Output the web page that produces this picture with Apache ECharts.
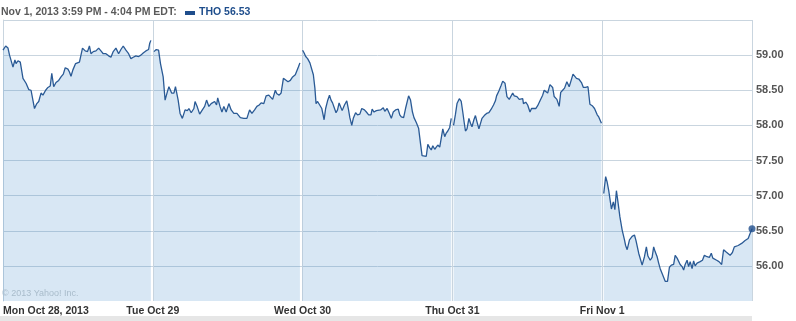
<!DOCTYPE html>
<html>
<head>
<meta charset="utf-8">
<script src="https://cdn.jsdelivr.net/npm/echarts@6/dist/echarts.min.js"></script>
<style>html,body{margin:0;padding:0;background:#fff;}#c{width:796px;height:321px;}</style>
</head>
<body>
<div id="c"></div>
<script>
// Session minute (0..390 from 9:30 open) and price, per trading day
const dayLabels = ['Mon Oct 28, 2013', 'Tue Oct 29', 'Wed Oct 30', 'Thu Oct 31', 'Fri Nov 1'];
const yTicks = [56.0, 56.5, 57.0, 57.5, 58.0, 58.5, 59.0];
const headerText = 'Nov 1, 2013 3:59 PM - 4:04 PM EDT:';
const seriesName = 'THO 56.53';
const copyright = '\u00a9 2013 Yahoo! Inc.';

const mon = [[0,59.07],[7,59.13],[13,59.10],[17,59.00],[26,58.83],[31,58.93],[34,58.88],[39,58.92],[45,58.90],[52,58.67],[60,58.60],[67,58.51],[73,58.50],[82,58.24],[88,58.31],[93,58.34],[99,58.46],[104,58.43],[111,58.50],[117,58.54],[123,58.56],[127,58.74],[132,58.55],[138,58.61],[145,58.64],[151,58.69],[157,58.73],[162,58.82],[169,58.80],[173,58.76],[177,58.70],[182,58.79],[189,58.88],[192,58.89],[199,58.90],[203,59.00],[207,59.10],[214,59.06],[220,59.05],[225,59.13],[229,59.02],[235,59.05],[242,59.06],[249,59.10],[255,59.06],[261,59.02],[268,59.02],[275,58.99],[281,58.97],[287,59.05],[294,59.10],[301,59.02],[307,59.08],[313,59.13],[320,59.07],[327,59.02],[333,58.95],[339,58.97],[346,58.99],[353,58.98],[359,59.00],[365,59.03],[372,59.06],[379,59.08],[382,59.17],[385,59.21]];
const tue = [[3,59.05],[9,59.08],[15,59.07],[20,58.88],[27,58.69],[32,58.36],[38,58.48],[42,58.55],[49,58.46],[55,58.46],[59,58.55],[66,58.36],[71,58.17],[77,58.10],[84,58.22],[90,58.21],[94,58.24],[100,58.18],[107,58.24],[110,58.34],[116,58.26],[122,58.16],[129,58.22],[135,58.27],[140,58.36],[146,58.27],[152,58.31],[157,58.29],[161,58.34],[166,58.29],[169,58.39],[175,58.27],[180,58.19],[185,58.27],[191,58.19],[198,58.31],[204,58.22],[211,58.17],[219,58.17],[228,58.11],[237,58.10],[245,58.10],[252,58.22],[258,58.17],[265,58.22],[271,58.27],[277,58.29],[282,58.32],[289,58.31],[295,58.42],[302,58.43],[306,58.42],[312,58.37],[319,58.50],[323,58.45],[329,58.43],[334,58.46],[340,58.67],[345,58.68],[352,58.62],[358,58.64],[364,58.69],[371,58.72],[375,58.74],[379,58.83],[383,58.89]];
const wed = [[0,59.07],[4,59.03],[8,58.98],[13,58.95],[19,58.89],[24,58.87],[28,58.72],[32,58.53],[35,58.31],[39,58.34],[44,58.35],[50,58.24],[56,58.08],[60,58.24],[65,58.35],[70,58.43],[74,58.36],[78,58.32],[82,58.34],[87,58.18],[91,58.22],[95,58.32],[100,58.31],[103,58.21],[109,58.29],[115,58.35],[119,58.24],[123,58.11],[128,58.00],[132,58.10],[138,58.18],[143,58.15],[149,58.16],[154,58.24],[161,58.22],[166,58.19],[172,58.15],[178,58.15],[181,58.23],[186,58.19],[192,58.21],[197,58.19],[203,58.22],[210,58.25],[214,58.20],[220,58.24],[225,58.18],[231,58.10],[236,58.19],[242,58.22],[249,58.23],[253,58.15],[257,58.12],[263,58.11],[268,58.24],[276,58.42],[281,58.36],[286,58.19],[290,58.11],[296,58.04],[302,57.96],[307,57.74],[311,57.57],[316,57.56],[322,57.56],[326,57.73],[331,57.68],[335,57.65],[339,57.71],[344,57.66],[348,57.69],[352,57.72],[357,57.69],[361,57.82],[365,57.95],[370,57.84],[374,57.89],[378,57.92],[383,57.97],[387,58.10]];
const thu = [[3,58.00],[8,58.16],[12,58.31],[18,58.38],[23,58.34],[27,58.19],[31,58.03],[34,57.92],[38,57.95],[43,58.10],[47,58.03],[51,57.98],[56,58.08],[60,58.14],[64,58.05],[69,57.95],[73,57.96],[77,58.10],[83,58.14],[89,58.17],[95,58.18],[101,58.23],[107,58.29],[112,58.35],[115,58.42],[121,58.49],[127,58.57],[131,58.63],[137,58.60],[142,58.41],[148,58.37],[153,58.39],[157,58.46],[161,58.42],[168,58.41],[174,58.37],[178,58.36],[183,58.38],[185,58.31],[191,58.33],[196,58.29],[202,58.19],[206,58.24],[211,58.24],[217,58.24],[222,58.28],[229,58.36],[235,58.43],[239,58.50],[243,58.48],[248,58.46],[254,58.58],[261,58.54],[265,58.41],[272,58.37],[278,58.27],[282,58.47],[287,58.50],[292,58.53],[298,58.62],[304,58.55],[308,58.62],[314,58.73],[318,58.72],[323,58.67],[329,58.66],[336,58.61],[341,58.54],[347,58.54],[353,58.55],[358,58.30],[364,58.28],[370,58.24],[377,58.15],[381,58.12],[385,58.12],[388,58.03]];
const fri = [[4,57.03],[9,57.27],[13,57.19],[17,57.07],[24,56.81],[29,56.91],[33,56.80],[37,57.07],[41,56.91],[46,56.70],[52,56.51],[58,56.37],[61,56.29],[65,56.23],[71,56.37],[78,56.42],[84,56.44],[88,56.36],[95,56.18],[104,56.01],[110,56.13],[115,56.27],[119,56.14],[125,56.08],[130,56.12],[134,56.27],[138,56.20],[143,56.13],[147,56.04],[151,55.96],[156,55.89],[160,55.87],[164,55.78],[170,55.78],[175,55.98],[180,56.01],[186,56.02],[190,56.15],[195,56.11],[199,56.11],[203,56.02],[208,55.99],[212,55.94],[216,56.02],[221,56.08],[225,55.99],[229,56.06],[234,55.96],[238,56.07],[242,56.00],[247,56.04],[251,56.04],[255,56.06],[261,56.08],[266,56.15],[273,56.13],[279,56.12],[284,56.18],[288,56.11],[292,56.11],[298,56.08],[304,56.06],[311,56.02],[316,56.23],[322,56.20],[327,56.18],[333,56.15],[339,56.19],[344,56.27],[348,56.25],[354,56.29],[359,56.27],[363,56.32],[367,56.31],[372,56.36],[376,56.37],[380,56.39],[385,56.46],[390,56.53]];

const days = [mon, tue, wed, thu, fri];
const SESSION = 390;

const lineColor = '#2a5a95';
const gridColor = '#c9d5df';
const headFont = 'bold 10.5px "Liberation Sans"';

const series = days.map((d, i) => ({
  type: 'line',
  name: seriesName,
  data: d.map(p => [i * SESSION + p[0], p[1]]),
  showSymbol: false,
  symbol: 'none',
  lineStyle: { color: lineColor, width: 1.3 },
  areaStyle: { color: '#3d85c6', opacity: 0.2, origin: 'start' },
  animation: false,
  z: 2
}));
const last = fri[fri.length - 1];
series.push({
  type: 'scatter',
  data: [[(days.length - 1) * SESSION + last[0], last[1]]],
  symbol: 'circle',
  symbolSize: 7,
  itemStyle: { color: '#1f4e8c' },
  animation: false,
  z: 4
});

const chart = echarts.init(document.getElementById('c'), null, { renderer: 'canvas' });
chart.setOption({
  backgroundColor: '#ffffff',
  animation: false,
  textStyle: { fontFamily: 'Liberation Sans' },
  grid: { left: 0, right: 44, top: 20, bottom: 20, containLabel: false },
  xAxis: {
    type: 'value',
    min: 0,
    max: days.length * SESSION,
    interval: SESSION,
    axisLine: { show: false },
    axisTick: { show: false },
    splitLine: { show: true, showMinLine: false, lineStyle: { color: gridColor, width: 1 } },
    axisLabel: {
      margin: 5,
      color: '#333333',
      fontFamily: 'Liberation Sans',
      fontWeight: 'bold',
      fontSize: 10.5,
      alignMinLabel: 'left',
      showMaxLabel: false,
      formatter: v => { const k = Math.round(v / SESSION); return k < dayLabels.length ? dayLabels[k] : ''; }
    }
  },
  yAxis: {
    type: 'value',
    position: 'right',
    min: 55.5,
    max: 59.5,
    interval: 0.5,
    axisLine: { show: true, lineStyle: { color: gridColor } },
    axisTick: { show: false },
    splitLine: { show: true, showMinLine: false, lineStyle: { color: gridColor, width: 1 } },
    axisLabel: {
      margin: 4,
      color: '#555555',
      fontFamily: 'Liberation Sans',
      fontWeight: 'bold',
      fontSize: 11,
      formatter: v => yTicks.some(t => Math.abs(t - v) < 1e-6) ? v.toFixed(2) : ''
    }
  },
  graphic: [
    { type: 'text', left: 1, top: 7, style: { text: headerText, fill: '#5a5a5a', font: headFont }, z: 10 },
    { type: 'rect', left: 185, top: 11, shape: { width: 10, height: 4 }, style: { fill: '#1f4e8c' }, z: 10 },
    { type: 'text', left: 199, top: 7, style: { text: seriesName, fill: '#1f4e8c', font: headFont }, z: 10 },
    { type: 'text', left: 2, top: 289, style: { text: copyright, fill: '#a9bccb', font: '9px "Liberation Sans"' }, z: 10 },
    { type: 'rect', left: 0, bottom: 0, shape: { width: 752, height: 5 }, style: { fill: '#e6e6e6' }, z: 0 }
  ],
  series: series
});
</script>
</body>
</html>
